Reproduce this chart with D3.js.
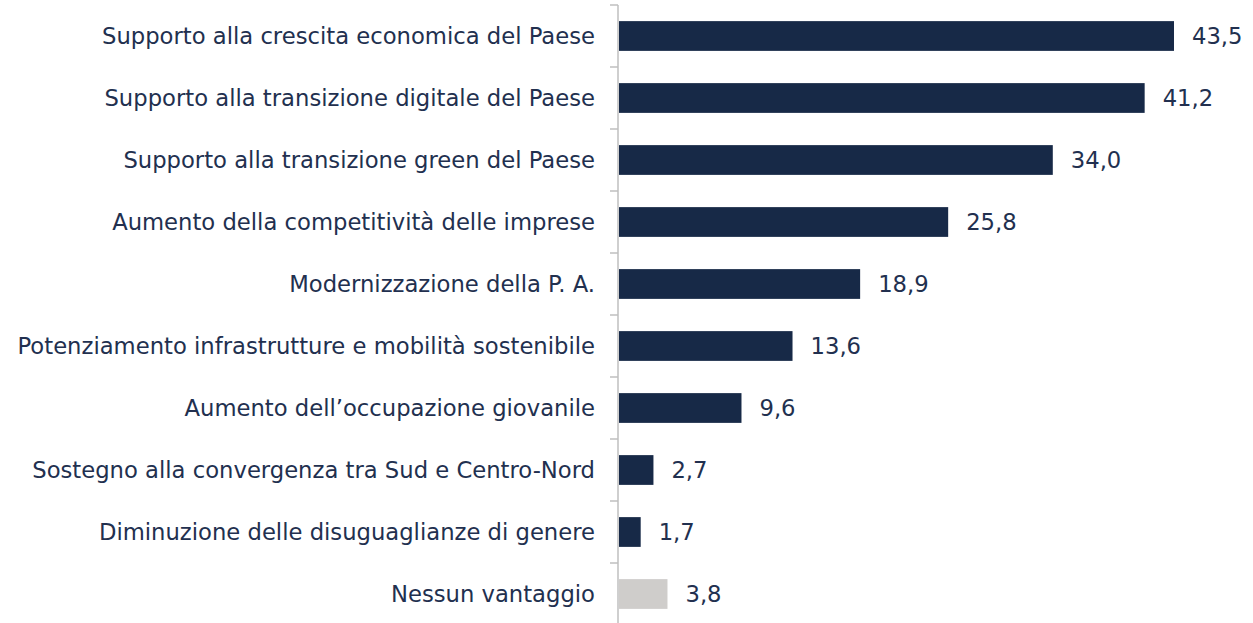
<!DOCTYPE html>
<html>
<head>
<meta charset="utf-8">
<script src="https://cdn.jsdelivr.net/npm/d3@7"></script>
<style>
  html, body { margin: 0; padding: 0; background: #fff; }
  svg { display: block; }
  text { font-family: "DejaVu Sans", sans-serif; fill: #22304f; }
</style>
</head>
<body>
<svg id="chart" width="1253" height="623"></svg>
<script>
// Vantaggi attesi — percentuali di risposta
const categories = [
  "Supporto alla crescita economica del Paese",
  "Supporto alla transizione digitale del Paese",
  "Supporto alla transizione green del Paese",
  "Aumento della competitività delle imprese",
  "Modernizzazione della P. A.",
  "Potenziamento infrastrutture e mobilità sostenibile",
  "Aumento dell\u2019occupazione giovanile",
  "Sostegno alla convergenza tra Sud e Centro-Nord",
  "Diminuzione delle disuguaglianze di genere",
  "Nessun vantaggio"
];
const values = [43.5, 41.2, 34.0, 25.8, 18.9, 13.6, 9.6, 2.7, 1.7, 3.8];
const highlight = [false, false, false, false, false, false, false, false, false, true];

const svg = d3.select("#chart");
const x0 = 619, y0 = 5, bandH = 62;

const x = d3.scaleLinear().domain([0, 43.5]).range([x0, 1174]);
const y = d3.scaleBand().domain(categories)
  .range([y0, y0 + bandH * categories.length])
  .paddingInner(0.52).paddingOuter(0.26);

// axis line with tick marks at category boundaries
const axisX = 618;
svg.append("line")
  .attr("x1", axisX).attr("x2", axisX)
  .attr("y1", y0).attr("y2", 623)
  .attr("stroke", "#bfbfbf").attr("stroke-width", 1.5);
d3.range(categories.length).forEach(i => {
  const ty = y0 + i * bandH;
  svg.append("line")
    .attr("x1", axisX - 8).attr("x2", axisX)
    .attr("y1", ty).attr("y2", ty)
    .attr("stroke", "#bfbfbf").attr("stroke-width", 1.5);
});

// bars
svg.selectAll("rect.bar").data(categories).join("rect")
  .attr("class", "bar")
  .attr("x", x(0))
  .attr("y", d => y(d))
  .attr("width", (d, i) => x(values[i]) - x(0))
  .attr("height", y.bandwidth())
  .attr("fill", (d, i) => highlight[i] ? "#cfcdcb" : "#172947");

// category labels
const cats = svg.selectAll("text.cat").data(categories).join("text")
  .attr("class", "cat")
  .attr("x", 595)
  .attr("y", d => y(d) + y.bandwidth() / 2)
  .attr("dy", "0.35em")
  .attr("text-anchor", "end")
  .attr("font-size", 20)
  .text(d => d);

// size the labels so the widest one fits left of the axis
const widest = d3.max(cats.nodes(), n => n.getComputedTextLength());
const fs = 20 * 578 / widest;
cats.attr("font-size", fs);

// value labels
const fmt = v => v.toFixed(1).replace(".", ",");
svg.selectAll("text.val").data(categories).join("text")
  .attr("class", "val")
  .attr("x", (d, i) => x(values[i]) + 18)
  .attr("y", d => y(d) + y.bandwidth() / 2)
  .attr("dy", "0.35em")
  .attr("font-size", fs)
  .text((d, i) => fmt(values[i]));
</script>
</body>
</html>
